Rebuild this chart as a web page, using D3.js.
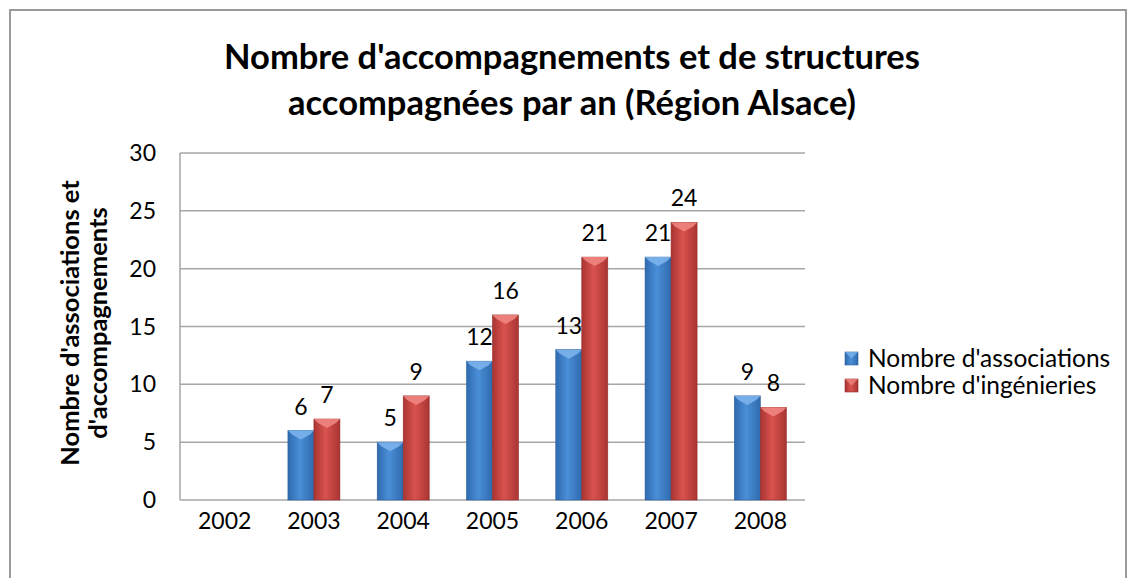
<!DOCTYPE html>
<html>
<head>
<meta charset="utf-8">
<script src="https://cdn.jsdelivr.net/npm/d3@7"></script>
<style>
  html, body { margin: 0; padding: 0; background: #ffffff; }
  svg { display: block; }
  text { font-family: Lato, "Open Sans", "DejaVu Sans", sans-serif; fill: #000; }
</style>
</head>
<body>
<svg id="chart" width="1127" height="578"></svg>
<script>
const years = ["2002", "2003", "2004", "2005", "2006", "2007", "2008"];
const associations = [null, 6, 5, 12, 13, 21, 9];
const ingenieries = [null, 7, 9, 16, 21, 24, 8];
const seriesNames = ["Nombre d'associations", "Nombre d'ingénieries"];
const yTicks = [0, 5, 10, 15, 20, 25, 30];
const titleLines = ["Nombre d'accompagnements et de structures", "accompagnées par an (Région Alsace)"];
const yTitleLines = ["Nombre d'associations et", "d'accompagnements"];

const svg = d3.select("#chart");

// frame
svg.append("rect").attr("x", 10).attr("y", 10).attr("width", 1116).attr("height", 600)
  .attr("fill", "#fff").attr("stroke", "#9a9a9a").attr("stroke-width", 2);

const plot = { left: 180, right: 805, top: 153, bottom: 500 };

const x0 = d3.scaleBand().domain(years).range([plot.left, plot.right]).padding(0);
const barW = 26;
const x1 = d3.scaleBand().domain(seriesNames).range([0, barW * 2]).padding(0);
const y = d3.scaleLinear().domain([0, 30]).range([plot.bottom, plot.top]);

// gradients
const defs = svg.append("defs");
function grad(id, edge, mid) {
  const g = defs.append("linearGradient").attr("id", id).attr("x1", "0").attr("x2", "1").attr("y1", "0").attr("y2", "0");
  g.append("stop").attr("offset", "0%").attr("stop-color", edge);
  g.append("stop").attr("offset", "45%").attr("stop-color", mid);
  g.append("stop").attr("offset", "100%").attr("stop-color", edge);
}
grad("gBlue", "#2f6aae", "#4a8fd8");
grad("gRed", "#a93532", "#d9524e");
const colors = { fill: ["url(#gBlue)", "url(#gRed)"], top: ["#7cb2ec", "#ef8581"], stroke: ["#2b5f9c", "#962d2a"] };

// gridlines
svg.append("g").selectAll("line").data(yTicks.filter(d => d > 0)).join("line")
  .attr("x1", plot.left).attr("x2", plot.right)
  .attr("y1", d => y(d)).attr("y2", d => y(d))
  .attr("stroke", "#a6a6a6").attr("stroke-width", 1.5);

// axes lines
svg.append("line").attr("x1", plot.left).attr("x2", plot.left).attr("y1", plot.top).attr("y2", plot.bottom)
  .attr("stroke", "#a6a6a6").attr("stroke-width", 1.5);
svg.append("line").attr("x1", plot.left).attr("x2", plot.right).attr("y1", plot.bottom).attr("y2", plot.bottom)
  .attr("stroke", "#a6a6a6").attr("stroke-width", 1.5);

// y tick labels
svg.append("g").selectAll("text").data(yTicks).join("text")
  .attr("x", 156).attr("y", d => y(d)).attr("dy", "0.35em")
  .attr("text-anchor", "end").attr("font-size", 23).text(d => d);

// x labels
svg.append("g").selectAll("text").data(years).join("text")
  .attr("x", d => x0(d) + x0.bandwidth() / 2).attr("y", 521).attr("dy", "0.35em")
  .attr("text-anchor", "middle").attr("font-size", 23).text(d => d);

// bars
const series = [associations, ingenieries];
const rows = [];
series.forEach((vals, si) => vals.forEach((v, i) => { if (v != null) rows.push({ si, year: years[i], v }); }));

const barG = svg.append("g");
const bx = d => x0(d.year) + x0.bandwidth() / 2 - barW + x1(seriesNames[d.si]);
barG.selectAll("rect.bar").data(rows).join("rect").attr("class", "bar")
  .attr("x", bx).attr("y", d => y(d.v)).attr("width", barW).attr("height", d => y(0) - y(d.v))
  .attr("fill", d => colors.fill[d.si]).attr("stroke", d => colors.stroke[d.si]).attr("stroke-width", 0.6);
// bevel top highlight
barG.selectAll("path.bevel").data(rows).join("path").attr("class", "bevel")
  .attr("d", d => {
    const xl = bx(d), xr = xl + barW, yt = y(d.v);
    return `M${xl},${yt} L${xr},${yt} L${xr - 4},${yt + 4} L${xl + barW / 2},${yt + 9} L${xl + 4},${yt + 4} Z`;
  })
  .attr("fill", d => colors.top[d.si]).attr("opacity", 0.9);

// data labels
svg.append("g").selectAll("text").data(rows).join("text")
  .attr("x", d => bx(d) + barW / 2).attr("y", d => y(d.v) - 16)
  .attr("text-anchor", "middle").attr("font-size", 23).text(d => d.v);

// title
svg.append("g").selectAll("text").data(titleLines).join("text")
  .attr("x", 572).attr("y", (d, i) => 69 + i * 46)
  .attr("text-anchor", "middle").attr("font-size", 34.5).attr("font-weight", "bold").text(d => d);

// y-axis title
svg.append("g").attr("transform", "translate(0,323) rotate(-90)")
  .selectAll("text").data(yTitleLines).join("text")
  .attr("x", 0).attr("y", (d, i) => 79 + i * 28)
  .attr("text-anchor", "middle").attr("font-size", 25.5).attr("font-weight", "bold").text(d => d);

// legend
const leg = svg.append("g").selectAll("g").data(seriesNames).join("g")
  .attr("transform", (d, i) => `translate(845,${358 + i * 27})`);
leg.append("rect").attr("x", 0).attr("y", -6).attr("width", 13).attr("height", 13)
  .attr("fill", (d, i) => colors.fill[i]).attr("stroke", (d, i) => colors.stroke[i]).attr("stroke-width", 0.6);
leg.append("path").attr("d", "M0,-6 L13,-6 L6.5,0.5 Z").attr("fill", (d, i) => colors.top[i]).attr("opacity", 0.8);
leg.append("text").attr("x", 23).attr("y", 0).attr("dy", "0.35em").attr("font-size", 24.5).text(d => d);
</script>
</body>
</html>
